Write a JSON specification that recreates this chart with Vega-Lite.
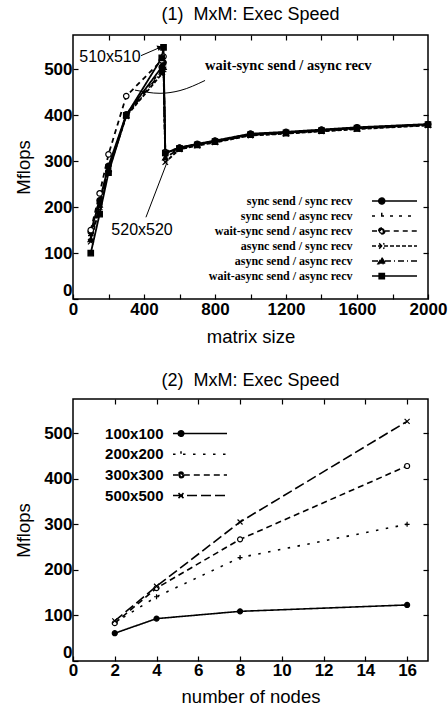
{
  "$schema": "https://vega.github.io/schema/vega-lite/v6.json",
  "background": "white",
  "padding": {"left": 13, "top": 5, "right": 8, "bottom": 0},
  "spacing": 24,
  "config": {
    "font": "Liberation Sans",
    "view": {"stroke": "black", "strokeWidth": 1.5},
    "axis": {"grid": false, "domain": false, "ticks": true, "tickColor": "black", "tickSize": -5, "tickWidth": 1.2, "labelFont": "Liberation Sans", "labelFontSize": 17, "labelFontWeight": "bold", "labelColor": "black", "labelPadding": 7, "labelFlush": false, "format": "d", "titleFont": "Liberation Sans", "titleFontSize": 18.5, "titleFontWeight": "normal", "titleColor": "black"},
    "axisX": {"titlePadding": 10},
    "axisY": {"titlePadding": 10, "labelPadding": 6, "labelBaseline": {"condition": {"test": "datum.value === 0", "value": "alphabetic"}, "value": "middle"}, "labelOffset": {"condition": {"test": "datum.value === 0", "value": -4}, "value": 0}},
    "title": {"font": "Liberation Sans", "fontSize": 18, "fontWeight": "normal", "color": "black", "anchor": "middle"},
    "legend": {"padding": 0}
  },
  "datasets": {
    "mxm1": [
      {"series": "sync send / sync recv", "size": 100, "mflops": 146},
      {"series": "sync send / sync recv", "size": 150, "mflops": 215},
      {"series": "sync send / sync recv", "size": 200, "mflops": 290},
      {"series": "sync send / sync recv", "size": 300, "mflops": 402},
      {"series": "sync send / sync recv", "size": 500, "mflops": 505},
      {"series": "sync send / sync recv", "size": 510, "mflops": 515},
      {"series": "sync send / sync recv", "size": 520, "mflops": 318},
      {"series": "sync send / sync recv", "size": 600, "mflops": 330},
      {"series": "sync send / sync recv", "size": 700, "mflops": 338},
      {"series": "sync send / sync recv", "size": 800, "mflops": 345},
      {"series": "sync send / sync recv", "size": 1000, "mflops": 360},
      {"series": "sync send / sync recv", "size": 1200, "mflops": 364},
      {"series": "sync send / sync recv", "size": 1400, "mflops": 369},
      {"series": "sync send / sync recv", "size": 1600, "mflops": 374},
      {"series": "sync send / sync recv", "size": 2000, "mflops": 381},
      {"series": "sync send / async recv", "size": 100, "mflops": 138},
      {"series": "sync send / async recv", "size": 150, "mflops": 208},
      {"series": "sync send / async recv", "size": 200, "mflops": 285},
      {"series": "sync send / async recv", "size": 300, "mflops": 400},
      {"series": "sync send / async recv", "size": 500, "mflops": 500},
      {"series": "sync send / async recv", "size": 510, "mflops": 510},
      {"series": "sync send / async recv", "size": 520, "mflops": 312},
      {"series": "sync send / async recv", "size": 600, "mflops": 328},
      {"series": "sync send / async recv", "size": 700, "mflops": 336},
      {"series": "sync send / async recv", "size": 800, "mflops": 343},
      {"series": "sync send / async recv", "size": 1000, "mflops": 358},
      {"series": "sync send / async recv", "size": 1200, "mflops": 362},
      {"series": "sync send / async recv", "size": 1400, "mflops": 367},
      {"series": "sync send / async recv", "size": 1600, "mflops": 372},
      {"series": "sync send / async recv", "size": 2000, "mflops": 380},
      {"series": "wait-sync send / async recv", "size": 100, "mflops": 150},
      {"series": "wait-sync send / async recv", "size": 150, "mflops": 230},
      {"series": "wait-sync send / async recv", "size": 200, "mflops": 315},
      {"series": "wait-sync send / async recv", "size": 300, "mflops": 442},
      {"series": "wait-sync send / async recv", "size": 500, "mflops": 520},
      {"series": "wait-sync send / async recv", "size": 510, "mflops": 528},
      {"series": "wait-sync send / async recv", "size": 520, "mflops": 320},
      {"series": "wait-sync send / async recv", "size": 600, "mflops": 329},
      {"series": "wait-sync send / async recv", "size": 700, "mflops": 337},
      {"series": "wait-sync send / async recv", "size": 800, "mflops": 344},
      {"series": "wait-sync send / async recv", "size": 1000, "mflops": 359},
      {"series": "wait-sync send / async recv", "size": 1200, "mflops": 363},
      {"series": "wait-sync send / async recv", "size": 1400, "mflops": 368},
      {"series": "wait-sync send / async recv", "size": 1600, "mflops": 373},
      {"series": "wait-sync send / async recv", "size": 2000, "mflops": 380},
      {"series": "async send / sync recv", "size": 100, "mflops": 125},
      {"series": "async send / sync recv", "size": 150, "mflops": 200},
      {"series": "async send / sync recv", "size": 200, "mflops": 280},
      {"series": "async send / sync recv", "size": 300, "mflops": 398},
      {"series": "async send / sync recv", "size": 500, "mflops": 490},
      {"series": "async send / sync recv", "size": 510, "mflops": 500},
      {"series": "async send / sync recv", "size": 520, "mflops": 298},
      {"series": "async send / sync recv", "size": 600, "mflops": 326},
      {"series": "async send / sync recv", "size": 700, "mflops": 334},
      {"series": "async send / sync recv", "size": 800, "mflops": 341},
      {"series": "async send / sync recv", "size": 1000, "mflops": 356},
      {"series": "async send / sync recv", "size": 1200, "mflops": 360},
      {"series": "async send / sync recv", "size": 1400, "mflops": 365},
      {"series": "async send / sync recv", "size": 1600, "mflops": 370},
      {"series": "async send / sync recv", "size": 2000, "mflops": 378},
      {"series": "async send / async recv", "size": 100, "mflops": 130},
      {"series": "async send / async recv", "size": 150, "mflops": 205},
      {"series": "async send / async recv", "size": 200, "mflops": 283},
      {"series": "async send / async recv", "size": 300, "mflops": 400},
      {"series": "async send / async recv", "size": 500, "mflops": 495},
      {"series": "async send / async recv", "size": 510, "mflops": 505},
      {"series": "async send / async recv", "size": 520, "mflops": 308},
      {"series": "async send / async recv", "size": 600, "mflops": 327},
      {"series": "async send / async recv", "size": 700, "mflops": 335},
      {"series": "async send / async recv", "size": 800, "mflops": 342},
      {"series": "async send / async recv", "size": 1000, "mflops": 357},
      {"series": "async send / async recv", "size": 1200, "mflops": 361},
      {"series": "async send / async recv", "size": 1400, "mflops": 366},
      {"series": "async send / async recv", "size": 1600, "mflops": 371},
      {"series": "async send / async recv", "size": 2000, "mflops": 379},
      {"series": "wait-async send / async recv", "size": 100, "mflops": 100},
      {"series": "wait-async send / async recv", "size": 150, "mflops": 185},
      {"series": "wait-async send / async recv", "size": 200, "mflops": 275},
      {"series": "wait-async send / async recv", "size": 300, "mflops": 400},
      {"series": "wait-async send / async recv", "size": 500, "mflops": 525},
      {"series": "wait-async send / async recv", "size": 510, "mflops": 548},
      {"series": "wait-async send / async recv", "size": 520, "mflops": 318},
      {"series": "wait-async send / async recv", "size": 600, "mflops": 328},
      {"series": "wait-async send / async recv", "size": 700, "mflops": 336},
      {"series": "wait-async send / async recv", "size": 800, "mflops": 343},
      {"series": "wait-async send / async recv", "size": 1000, "mflops": 358},
      {"series": "wait-async send / async recv", "size": 1200, "mflops": 362},
      {"series": "wait-async send / async recv", "size": 1400, "mflops": 367},
      {"series": "wait-async send / async recv", "size": 1600, "mflops": 372},
      {"series": "wait-async send / async recv", "size": 2000, "mflops": 380}
    ],
    "mxm2": [
      {"series": "100x100", "nodes": 2, "mflops": 61},
      {"series": "100x100", "nodes": 4, "mflops": 93},
      {"series": "100x100", "nodes": 8, "mflops": 109},
      {"series": "100x100", "nodes": 16, "mflops": 123},
      {"series": "200x200", "nodes": 2, "mflops": 84},
      {"series": "200x200", "nodes": 4, "mflops": 141},
      {"series": "200x200", "nodes": 8, "mflops": 227},
      {"series": "200x200", "nodes": 16, "mflops": 300},
      {"series": "300x300", "nodes": 2, "mflops": 83},
      {"series": "300x300", "nodes": 4, "mflops": 160},
      {"series": "300x300", "nodes": 8, "mflops": 267},
      {"series": "300x300", "nodes": 16, "mflops": 428},
      {"series": "500x500", "nodes": 2, "mflops": 88},
      {"series": "500x500", "nodes": 4, "mflops": 164},
      {"series": "500x500", "nodes": 8, "mflops": 305},
      {"series": "500x500", "nodes": 16, "mflops": 526}
    ]
  },
  "vconcat": [
    {
      "title": {"text": "(1)\u00a0 MxM: Exec Speed", "offset": 10},
      "width": 355,
      "height": 264,
      "resolve": {"scale": {"shape": "independent", "strokeDash": "independent", "fill": "independent"}, "axis": {"x": "independent", "y": "independent"}},
      "layer": [
        {
          "data": {"name": "mxm1"},
          "mark": {"type": "line", "color": "black", "strokeWidth": 1.8},
          "encoding": {
            "x": {"field": "size", "type": "quantitative", "scale": {"domain": [0, 2000], "nice": false}, "axis": {"title": "matrix size", "values": [0, 200, 400, 600, 800, 1000, 1200, 1400, 1600, 1800, 2000], "labelExpr": "datum.value % 400 === 0 ? datum.label : ''"}},
            "y": {"field": "mflops", "type": "quantitative", "scale": {"domain": [0, 575], "nice": false}, "axis": {"title": "Mflops", "values": [0, 100, 200, 300, 400, 500]}},
            "strokeDash": {"field": "series", "type": "nominal", "scale": {"domain": ["sync send / sync recv", "sync send / async recv", "wait-sync send / async recv", "async send / sync recv", "async send / async recv", "wait-async send / async recv"], "range": [[1, 0], [3, 6], [5, 4], [4, 2], [6, 3, 1, 3], [1, 0]]}, "legend": null}
          }
        },
        {
          "data": {"name": "mxm1"},
          "mark": {"type": "point", "stroke": "black", "strokeWidth": 1.2, "size": 30, "opacity": 1},
          "encoding": {
            "x": {"field": "size", "type": "quantitative", "axis": {"orient": "top", "labels": false, "title": null, "values": [200, 400, 600, 800, 1000, 1200, 1400, 1600, 1800]}},
            "y": {"field": "mflops", "type": "quantitative", "axis": {"orient": "right", "labels": false, "title": null, "values": [100, 200, 300, 400, 500]}},
            "shape": {"field": "series", "type": "nominal", "scale": {"domain": ["sync send / sync recv", "sync send / async recv", "wait-sync send / async recv", "async send / sync recv", "async send / async recv", "wait-async send / async recv"], "range": ["circle", "M-1,0H1M0,-1V1", "circle", "M-1,-1L1,1M-1,1L1,-1", "triangle-up", "square"]}, "legend": null},
            "fill": {"field": "series", "type": "nominal", "scale": {"domain": ["sync send / sync recv", "sync send / async recv", "wait-sync send / async recv", "async send / sync recv", "async send / async recv", "wait-async send / async recv"], "range": ["black", "black", "white", "black", "black", "black"]}, "legend": null}
          }
        },
        {
          "data": {"name": "mxm1"},
          "transform": [{"filter": "false"}],
          "mark": {"type": "point", "filled": false, "color": "black", "strokeWidth": 1.5, "opacity": 1},
          "encoding": {
            "x": {"field": "size", "type": "quantitative", "axis": null},
            "y": {"field": "mflops", "type": "quantitative", "axis": null},
            "fill": {"field": "series", "type": "nominal", "scale": {"domain": ["sync send / sync recv", "sync send / async recv", "wait-sync send / async recv", "async send / sync recv", "async send / async recv", "wait-async send / async recv"], "range": ["black", "black", "black", "black", "black", "black"]},
              "legend": {"orient": "none", "legendX": 313, "legendY": 157.5, "title": null, "symbolSize": 225, "symbolStrokeWidth": 1.5, "labelFont": "Liberation Serif", "labelFontSize": 12, "labelFontWeight": "bold", "labelColor": "black", "labelAlign": "right", "labelOffset": -50.5, "labelLimit": 400, "rowPadding": 0, "padding": 0}},
            "shape": {"field": "series", "type": "nominal", "scale": {"domain": ["sync send / sync recv", "sync send / async recv", "wait-sync send / async recv", "async send / sync recv", "async send / async recv", "wait-async send / async recv"], "range": [
              "M-3,0H3M-1.3,0A0.4,0.4,0,1,1,-2.1,0A0.4,0.4,0,1,1,-1.3,0Z",
              "M-3,0H3M-1.7,-0.45V0.45",
              "M-3,0H-2.1M-1.3,0H3M-1.3,0A0.4,0.4,0,1,1,-2.1,0A0.4,0.4,0,1,1,-1.3,0ZM-1.48,0A0.22,0.22,0,1,0,-1.92,0A0.22,0.22,0,1,0,-1.48,0Z",
              "M-3,0H3M-2.05,-0.35L-1.35,0.35M-2.05,0.35L-1.35,-0.35",
              "M-3,0H3M-1.7,-0.45L-1.2,0.35L-2.2,0.35Z",
              "M-3,0H3M-2.05,-0.35H-1.35V0.35H-2.05Z"]},
              "legend": {"orient": "none", "legendX": 313, "legendY": 157.5, "title": null, "symbolSize": 225, "symbolStrokeWidth": 1.5, "labelFont": "Liberation Serif", "labelFontSize": 12, "labelFontWeight": "bold", "labelColor": "black", "labelAlign": "right", "labelOffset": -50.5, "labelLimit": 400, "rowPadding": 0, "padding": 0}},
            "strokeDash": {"field": "series", "type": "nominal", "scale": {"domain": ["sync send / sync recv", "sync send / async recv", "wait-sync send / async recv", "async send / sync recv", "async send / async recv", "wait-async send / async recv"], "range": [[1, 0], [3, 6], [5, 4], [4, 2], [6, 3, 1, 3], [1, 0]]},
              "legend": {"orient": "none", "legendX": 313, "legendY": 157.5, "title": null, "symbolSize": 225, "symbolStrokeWidth": 1.5, "labelFont": "Liberation Serif", "labelFontSize": 12, "labelFontWeight": "bold", "labelColor": "black", "labelAlign": "right", "labelOffset": -50.5, "labelLimit": 400, "rowPadding": 0, "padding": 0}}
          }
        },
        {
          "data": {"values": [{"x": 208, "y": 526, "t": "510x510"}, {"x": 389, "y": 150, "t": "520x520"}]},
          "mark": {"type": "text", "font": "Liberation Sans", "fontSize": 16, "color": "black"},
          "encoding": {
            "x": {"field": "x", "type": "quantitative", "axis": null},
            "y": {"field": "y", "type": "quantitative", "axis": null},
            "text": {"field": "t"}
          }
        },
        {
          "data": {"values": [{"x": 744, "y": 507, "t": "wait-sync send / async recv"}]},
          "mark": {"type": "text", "font": "Liberation Serif", "fontSize": 14.5, "fontWeight": "bold", "align": "left", "color": "black"},
          "encoding": {
            "x": {"field": "x", "type": "quantitative", "axis": null},
            "y": {"field": "y", "type": "quantitative", "axis": null},
            "text": {"field": "t"}
          }
        },
        {
          "data": {"values": [{"x": 383, "y": 530, "x2": 485, "y2": 547}, {"x": 411, "y": 178, "x2": 530, "y2": 298}]},
          "mark": {"type": "rule", "color": "black", "strokeWidth": 1},
          "encoding": {
            "x": {"field": "x", "type": "quantitative", "axis": null},
            "y": {"field": "y", "type": "quantitative", "axis": null},
            "x2": {"field": "x2"},
            "y2": {"field": "y2"}
          }
        },
        {
          "data": {"values": [{"x": 490, "y": 548}]},
          "mark": {"type": "point", "shape": "triangle-right", "angle": -22, "filled": true, "color": "black", "size": 35, "opacity": 1},
          "encoding": {
            "x": {"field": "x", "type": "quantitative", "axis": null},
            "y": {"field": "y", "type": "quantitative", "axis": null}
          }
        },
        {
          "data": {"values": [{"x": 744, "y": 476}, {"x": 603, "y": 454}, {"x": 490, "y": 448}, {"x": 349, "y": 455}]},
          "mark": {"type": "line", "color": "black", "strokeWidth": 1, "interpolate": "monotone"},
          "encoding": {
            "x": {"field": "x", "type": "quantitative", "axis": null},
            "y": {"field": "y", "type": "quantitative", "axis": null}
          }
        }
      ]
    },
    {
      "title": {"text": "(2)\u00a0 MxM: Exec Speed", "offset": 8},
      "width": 355,
      "height": 262,
      "resolve": {"scale": {"shape": "independent", "strokeDash": "independent", "fill": "independent"}, "axis": {"x": "independent", "y": "independent"}},
      "layer": [
        {
          "data": {"name": "mxm2"},
          "mark": {"type": "line", "color": "black", "strokeWidth": 1.6},
          "encoding": {
            "x": {"field": "nodes", "type": "quantitative", "scale": {"domain": [0, 17], "nice": false}, "axis": {"title": "number of nodes", "values": [0, 2, 4, 6, 8, 10, 12, 14, 16], "labelPadding": 6, "titlePadding": 9}},
            "y": {"field": "mflops", "type": "quantitative", "scale": {"domain": [0, 575], "nice": false}, "axis": {"title": "Mflops", "values": [0, 100, 200, 300, 400, 500]}},
            "strokeDash": {"field": "series", "type": "nominal", "scale": {"domain": ["100x100", "200x200", "300x300", "500x500"], "range": [[1, 0], [2.5, 7.5], [6, 4], [10, 4]]}, "legend": null}
          }
        },
        {
          "data": {"name": "mxm2"},
          "mark": {"type": "point", "stroke": "black", "strokeWidth": 1.2, "size": 25, "opacity": 1},
          "encoding": {
            "x": {"field": "nodes", "type": "quantitative", "axis": {"orient": "top", "labels": false, "title": null, "values": [2, 4, 6, 8, 10, 12, 14, 16]}},
            "y": {"field": "mflops", "type": "quantitative", "axis": {"orient": "right", "labels": false, "title": null, "values": [100, 200, 300, 400, 500]}},
            "shape": {"field": "series", "type": "nominal", "scale": {"domain": ["100x100", "200x200", "300x300", "500x500"], "range": ["circle", "M-1,0H1M0,-1V1", "circle", "M-1,-1L1,1M-1,1L1,-1"]}, "legend": null},
            "fill": {"field": "series", "type": "nominal", "scale": {"domain": ["100x100", "200x200", "300x300", "500x500"], "range": ["black", "black", "white", "black"]}, "legend": null}
          }
        },
        {
          "data": {"name": "mxm2"},
          "transform": [{"filter": "false"}],
          "mark": {"type": "point", "filled": false, "color": "black", "strokeWidth": 1.5, "opacity": 1},
          "encoding": {
            "x": {"field": "nodes", "type": "quantitative", "axis": null},
            "y": {"field": "mflops", "type": "quantitative", "axis": null},
            "fill": {"field": "series", "type": "nominal", "scale": {"domain": ["100x100", "200x200", "300x300", "500x500"], "range": ["black", "black", "black", "black"]},
              "legend": {"orient": "none", "legendX": 116, "legendY": 23.5, "title": null, "symbolSize": 400, "symbolStrokeWidth": 1.5, "labelFont": "Liberation Sans", "labelFontSize": 15, "labelFontWeight": "bold", "labelColor": "black", "labelAlign": "right", "labelOffset": -47.5, "labelLimit": 400, "rowPadding": 1.7, "padding": 0}},
            "shape": {"field": "series", "type": "nominal", "scale": {"domain": ["100x100", "200x200", "300x300", "500x500"], "range": [
              "M-2.7,0H2.7M-1.62,0A0.28,0.28,0,1,1,-2.18,0A0.28,0.28,0,1,1,-1.62,0Z",
              "M-2.7,0H2.7M-1.9,-0.3V0.3",
              "M-2.7,0H-2.18M-1.62,0H2.7M-1.62,0A0.28,0.28,0,1,1,-2.18,0A0.28,0.28,0,1,1,-1.62,0ZM-1.76,0A0.14,0.14,0,1,0,-2.04,0A0.14,0.14,0,1,0,-1.76,0Z",
              "M-2.7,0H2.7M-2.15,-0.25L-1.65,0.25M-2.15,0.25L-1.65,-0.25"]},
              "legend": {"orient": "none", "legendX": 116, "legendY": 23.5, "title": null, "symbolSize": 400, "symbolStrokeWidth": 1.5, "labelFont": "Liberation Sans", "labelFontSize": 15, "labelFontWeight": "bold", "labelColor": "black", "labelAlign": "right", "labelOffset": -47.5, "labelLimit": 400, "rowPadding": 1.7, "padding": 0}},
            "strokeDash": {"field": "series", "type": "nominal", "scale": {"domain": ["100x100", "200x200", "300x300", "500x500"], "range": [[1, 0], [2.5, 7.5], [6, 4], [10, 4]]},
              "legend": {"orient": "none", "legendX": 116, "legendY": 23.5, "title": null, "symbolSize": 400, "symbolStrokeWidth": 1.5, "labelFont": "Liberation Sans", "labelFontSize": 15, "labelFontWeight": "bold", "labelColor": "black", "labelAlign": "right", "labelOffset": -47.5, "labelLimit": 400, "rowPadding": 1.7, "padding": 0}}
          }
        }
      ]
    }
  ]
}
